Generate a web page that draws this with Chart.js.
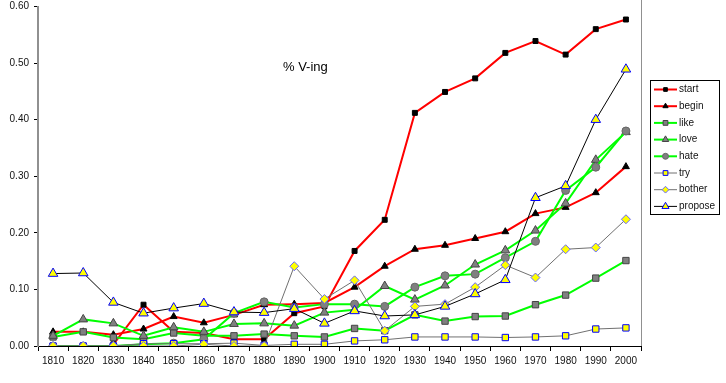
<!DOCTYPE html>
<html>
<head>
<meta charset="utf-8">
<script src="https://cdn.jsdelivr.net/npm/chart.js@4"></script>
<style>
  html, body { margin: 0; padding: 0; background: #fff; }
  #wrap { width: 726px; height: 383px; }
</style>
</head>
<body>
<div id="wrap"><canvas id="vingChart" width="726" height="383"></canvas></div>
<script>
// decades on the x axis
const years = ["1810", "1820", "1830", "1840", "1850", "1860", "1870", "1880", "1890", "1900",
               "1910", "1920", "1930", "1940", "1950", "1960", "1970", "1980", "1990", "2000"];
const yTicks = [0, 0.1, 0.2, 0.3, 0.4, 0.5, 0.6];

// share of V-ing complements per verb
const startVals   = [null, null, 0.003, 0.073, 0.025, 0.023, 0.012, 0.012, 0.058, 0.070, 0.168, 0.223, 0.412, 0.449, 0.473, 0.518, 0.539, 0.515, 0.560, 0.577];
const beginVals   = [0.025, 0.025, 0.020, 0.030, 0.052, 0.041, 0.055, 0.073, 0.074, 0.076, 0.104, 0.141, 0.171, 0.178, 0.190, 0.202, 0.234, 0.245, 0.271, 0.317];
const likeVals    = [0.016, 0.025, 0.015, 0.012, 0.023, 0.018, 0.018, 0.021, 0.018, 0.016, 0.031, 0.027, 0.055, 0.044, 0.052, 0.053, 0.073, 0.090, 0.120, 0.151];
const loveVals    = [0.018, 0.047, 0.040, 0.018, 0.033, 0.025, 0.039, 0.040, 0.036, 0.059, 0.064, 0.106, 0.082, 0.107, 0.144, 0.169, 0.204, 0.252, 0.329, 0.378];
const hateVals    = [0, 0, 0, 0.003, 0.005, 0.012, 0.058, 0.078, 0.068, 0.074, 0.074, 0.070, 0.104, 0.124, 0.127, 0.156, 0.185, 0.275, 0.316, 0.380];
const tryVals     = [0, 0, 0, 0.004, 0.004, 0.004, 0.005, 0.001, 0.003, 0.003, 0.009, 0.011, 0.016, 0.016, 0.016, 0.015, 0.016, 0.018, 0.030, 0.032];
const botherVals  = [0, 0, 0, 0, 0, 0.003, 0, 0, 0.141, 0.083, 0.116, 0.027, 0.070, 0.074, 0.104, 0.143, 0.121, 0.171, 0.174, 0.224];
const proposeVals = [0.128, 0.129, 0.077, 0.058, 0.067, 0.075, 0.060, 0.059, 0.066, 0.040, 0.062, 0.053, 0.055, 0.070, 0.092, 0.117, 0.262, 0.283, 0.400, 0.489];

Chart.defaults.font.family = "'Liberation Sans', Arial, sans-serif";
Chart.defaults.font.size = 10;
Chart.defaults.color = "#111";

let seriesCount = 0;
function series(label, data, line, width, style, radius, fill, edge) {
  seriesCount++;
  return {
    label: label,
    data: data,
    borderColor: line,
    borderWidth: width,
    pointStyle: style,
    pointRadius: radius,
    pointBackgroundColor: fill,
    pointBorderColor: edge,
    pointBorderWidth: 1,
    tension: 0,
    order: 10 - seriesCount, // later series on top, like Excel
  };
}

// Excel style legend: line with marker, inside a box
const boxLegend = {
  id: "boxLegend",
  afterDraw(chart) {
    const ctx = chart.ctx;
    const x0 = 650, y0 = 80, w = 69, h = 134, step = 16.7;
    ctx.save();
    ctx.strokeStyle = "#000";
    ctx.lineWidth = 1;
    ctx.strokeRect(x0 + 0.5, y0 + 0.5, w, h);
    chart.data.datasets.forEach((ds, i) => {
      const y = y0 + 9.5 + i * step;
      ctx.strokeStyle = ds.borderColor;
      ctx.lineWidth = ds.borderWidth;
      ctx.beginPath();
      ctx.moveTo(654, y);
      ctx.lineTo(677, y);
      ctx.stroke();
      ctx.fillStyle = ds.pointBackgroundColor;
      ctx.strokeStyle = ds.pointBorderColor;
      ctx.lineWidth = 1;
      Chart.helpers.drawPoint(ctx, { pointStyle: ds.pointStyle, radius: ds.pointRadius * 0.75, borderWidth: 1 }, 665.5, y);
      ctx.fillStyle = "#111";
      ctx.font = "10px 'Liberation Sans', Arial, sans-serif";
      ctx.textBaseline = "middle";
      ctx.fillText(ds.label, 679, y);
    });
    ctx.restore();
  },
};

// title text inside the plot and right frame line
const plotExtras = {
  id: "plotExtras",
  afterDraw(chart) {
    const ctx = chart.ctx;
    const a = chart.chartArea;
    ctx.save();
    ctx.strokeStyle = "#909090";
    ctx.lineWidth = 1;
    ctx.beginPath();
    ctx.moveTo(a.right + 0.5, 0);
    ctx.lineTo(a.right + 0.5, a.bottom);
    ctx.stroke();
    ctx.fillStyle = "#000";
    ctx.font = "13px 'Liberation Sans', Arial, sans-serif";
    ctx.textBaseline = "alphabetic";
    ctx.fillText("% V-ing", 283, 71);
    ctx.restore();
  },
};

const ctxVing = document.getElementById("vingChart").getContext("2d");
const vingChart = new Chart(ctxVing, {
  type: "line",
  data: {
    labels: years,
    datasets: [
      series("start",   startVals,   "#ff0000", 2, "rect",     3.5, "#000",    "#000"),
      series("begin",   beginVals,   "#ff0000", 2, "triangle", 4,   "#000",    "#000"),
      series("like",    likeVals,    "#00ff00", 2, "rect",     4.5, "#808080", "#444"),
      series("love",    loveVals,    "#00ff00", 2, "triangle", 5,   "#808080", "#444"),
      series("hate",    hateVals,    "#00ff00", 2, "circle",   4,   "#808080", "#666"),
      series("try",     tryVals,     "#707070", 1, "rect",     4.5, "#ffff00", "#0000ff"),
      series("bother",  botherVals,  "#707070", 1, "rectRot",  4.5, "#ffff00", "#6666ff"),
      series("propose", proposeVals, "#000000", 1, "triangle", 5.5, "#ffff00", "#0000ff"),
    ],
  },
  options: {
    responsive: false,
    animation: false,
    layout: { padding: { left: 0, top: 5, right: 85, bottom: 0 } },
    plugins: {
      legend: { display: false },
      tooltip: { enabled: false },
    },
    scales: {
      x: {
        offset: true,
        grid: { offset: true, drawOnChartArea: false, tickLength: 5, color: "#000" },
        border: { color: "#000", width: 1 },
        ticks: { padding: 4, maxRotation: 0, autoSkip: false },
        afterFit: (s) => { s.height = 37; },
      },
      y: {
        min: 0,
        max: 0.6,
        grid: { drawOnChartArea: false, tickLength: 4, color: "#000" },
        border: { color: "#909090", width: 2 },
        afterBuildTicks: (s) => { s.ticks = yTicks.map((v) => ({ value: v })); },
        ticks: { padding: 5, callback: (v) => Number(v).toFixed(2) },
        afterFit: (s) => { s.width = 38; s.paddingTop = 0; s.paddingBottom = 0; },
      },
    },
  },
  plugins: [boxLegend, plotExtras],
});
</script>
</body>
</html>
